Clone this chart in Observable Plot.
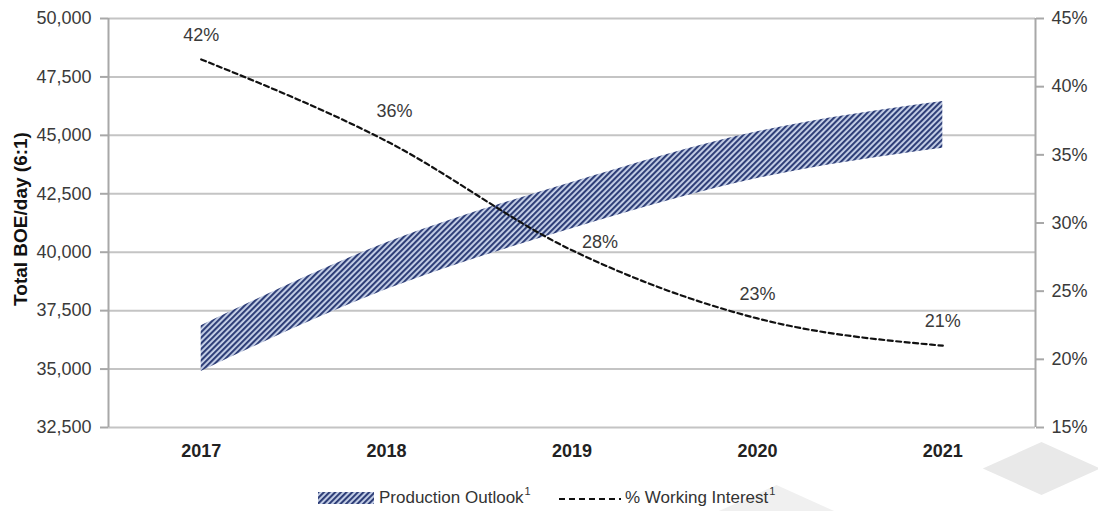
<!DOCTYPE html>
<html>
<head>
<meta charset="utf-8">
<script src="https://cdn.jsdelivr.net/npm/d3@7"></script>
<script src="https://cdn.jsdelivr.net/npm/@observablehq/plot@0.6"></script>
<style>
  body { margin: 0; background: #fff; font-family: "Liberation Sans", Arial, sans-serif; }
  #wrap { position: relative; width: 1098px; height: 511px; overflow: hidden; background: #fff; }
  #chart { position: relative; z-index: 1; }
  #legend { position: relative; z-index: 1; height: 51px; font-size: 17px; color: #333; }
  .item { position: absolute; display: flex; align-items: center; white-space: nowrap; }
  sup { font-size: 11px; position: relative; top: -8px; vertical-align: baseline; margin-left: 1px; }
  .wm { position: absolute; z-index: 0; width: 83px; height: 83px; background: #e9e9e9; transform: scaleY(0.45) rotate(45deg); }
</style>
</head>
<body>
<div id="wrap">
  <div class="wm" style="left:1000px; top:427px;"></div>
  <div class="wm" style="left:735px; top:470px; background:#f0f0f0;"></div>
  <div id="chart"></div>
  <div id="legend"></div>
</div>
<script>
// ---- data ----
const years = [2017, 2018, 2019, 2020, 2021];
const outlookHigh = [36850, 40400, 42980, 45150, 46450];
const outlookLow  = [34900, 38400, 41000, 43150, 44450];
const workingInterest = [42, 36, 28, 23, 21];
const leftTicks = [32500, 35000, 37500, 40000, 42500, 45000, 47500, 50000];
const rightTicks = [15, 20, 25, 30, 35, 40, 45];
const seriesNames = ["Production Outlook", "% Working Interest"];
const yLabel = "Total BOE/day (6:1)";

const yMin = 32500, yMax = 50000, pMin = 15, pMax = 45;
const pctToY = p => yMin + (p - pMin) / (pMax - pMin) * (yMax - yMin);

const band = years.map((yr, i) => ({year: yr, lo: outlookLow[i], hi: outlookHigh[i]}));
const wi = years.map((yr, i) => ({year: yr, pct: workingInterest[i], y: pctToY(workingInterest[i])}));

const textColor = "#3a3a3a";
const gridColor = "#c4c4c4";
const axisColor = "#a8a8a8";
const labelOpts = {x: "year", y: "y", text: d => d.pct + "%", fill: textColor, fontSize: 18};

const chart = Plot.plot({
  width: 1098,
  height: 460,
  marginLeft: 108,
  marginRight: 63,
  marginTop: 18,
  marginBottom: 33,
  style: {fontFamily: "'Liberation Sans', Arial, sans-serif", fontSize: "18px", color: textColor, background: "transparent", overflow: "visible"},
  x: {domain: [2016.5, 2021.5]},
  y: {domain: [yMin, yMax]},
  marks: [
    Plot.gridY(leftTicks, {stroke: gridColor, strokeOpacity: 1, strokeWidth: 2}),
    Plot.areaY(band, {x: "year", y1: "lo", y2: "hi", fill: "url(#hatch)", curve: "monotone-x"}),
    Plot.line(wi, {x: "year", y: "y", stroke: "#111", strokeWidth: 2.2, strokeDasharray: "5,3.5", curve: "monotone-x"}),
    Plot.text(wi.filter(d => d.year !== 2018 && d.year !== 2019), {...labelOpts, dy: -24}),
    Plot.text(wi.filter(d => d.year === 2018), {...labelOpts, dx: 8, dy: -30}),
    Plot.text(wi.filter(d => d.year === 2019), {...labelOpts, dx: 28, dy: -8}),
    Plot.ruleX([2016.5], {stroke: axisColor, strokeWidth: 2}),
    Plot.ruleX([2021.5], {stroke: axisColor, strokeWidth: 2}),
    Plot.axisY(leftTicks, {anchor: "left", tickSize: 8, tickPadding: 9, stroke: axisColor, strokeWidth: 2,
      tickFormat: d => d3.format(",")(d), fill: textColor, fontSize: 18, label: null}),
    Plot.axisY(rightTicks.map(pctToY), {anchor: "right", tickSize: 8, tickPadding: 8, stroke: axisColor, strokeWidth: 2,
      tickFormat: d => Math.round(pMin + (d - yMin) / (yMax - yMin) * (pMax - pMin)) + "%", fill: textColor, fontSize: 18, label: null}),
    Plot.axisX(years, {anchor: "bottom", tickSize: 0, tickPadding: 17, tickFormat: d => String(d),
      fontWeight: "bold", fill: "#222", fontSize: 18, label: null}),
    Plot.text([yLabel], {frameAnchor: "left", dx: -88, dy: -4, rotate: -90, textAnchor: "middle", fontWeight: "bold",
      fontSize: 19, fill: "#111", text: d => d})
  ]
});

// hatch pattern definition
const ns = "http://www.w3.org/2000/svg";
const patternDef = id => `<pattern id="${id}" patternUnits="userSpaceOnUse" width="4" height="4" patternTransform="rotate(45)">
      <rect width="4" height="4" fill="#c9d3ea"/>
      <rect x="0" y="0" width="2.1" height="4" fill="#2f3f78"/>
    </pattern>`;
const defs = document.createElementNS(ns, "defs");
defs.innerHTML = patternDef("hatch");
chart.insertBefore(defs, chart.firstChild);
document.getElementById("chart").appendChild(chart);

// legend
const legend = document.getElementById("legend");
legend.innerHTML = `
  <div class="item" style="left:318px; top:28px;">
    <svg width="56" height="14" style="margin-right:5px"><defs>${patternDef("hatch2")}</defs><rect x="0" y="1" width="56" height="12" fill="url(#hatch2)"/></svg>
    <span>${seriesNames[0]}<sup>1</sup></span>
  </div>
  <div class="item" style="left:558px; top:28px;">
    <svg width="64" height="14" style="margin-right:3px"><line x1="1" y1="8" x2="63" y2="8" stroke="#111" stroke-width="2" stroke-dasharray="6,4"/></svg>
    <span>${seriesNames[1]}<sup>1</sup></span>
  </div>`;
</script>
</body>
</html>
